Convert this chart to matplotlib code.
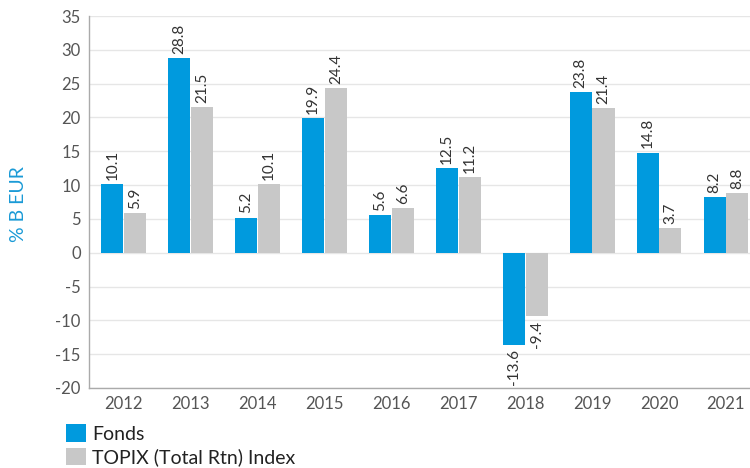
import matplotlib
matplotlib.use("Agg")
import matplotlib.pyplot as plt
import numpy as np

years = ["2012", "2013", "2014", "2015", "2016", "2017", "2018", "2019", "2020", "2021"]
fonds = [10.1, 28.8, 5.2, 19.9, 5.6, 12.5, -13.6, 23.8, 14.8, 8.2]
topix = [5.9, 21.5, 10.1, 24.4, 6.6, 11.2, -9.4, 21.4, 3.7, 8.8]
series_names = ["Fonds", "TOPIX (Total Rtn) Index"]
y_ticks = [-20, -15, -10, -5, 0, 5, 10, 15, 20, 25, 30, 35]

plt.rcParams['font.family'] = ['Lato', 'DejaVu Sans']

W, H = 750, 468
fig = plt.figure(figsize=(W / 100, H / 100), dpi=100)
ax = fig.add_axes([89 / W, (H - 388) / H, (W - 89) / W, (388 - 16) / H])

x = np.arange(len(years))
bw = 0.33
blue = "#009ade"
gray = "#c8c8c8"
b1 = ax.bar(x - bw / 2 - 0.005, fonds, bw, color=blue, label=series_names[0], zorder=3)
b2 = ax.bar(x + bw / 2 + 0.005, topix, bw, color=gray, label=series_names[1], zorder=3)

for bars in (b1, b2):
    ax.bar_label(bars, labels=[f"{v:.1f}" for v in bars.datavalues], rotation=90,
                 padding=3, fontsize=11, color="#333333")

ax.set_ylim(-20, 35)
ax.set_xlim(-0.52, 9.36)
ax.set_yticks(y_ticks)
ax.set_yticklabels([str(t) for t in y_ticks])
ax.set_xticks(x)
ax.set_xticklabels(years)
ax.tick_params(axis='both', length=0, labelsize=12, labelcolor="#555555")
ax.tick_params(axis='y', pad=6)
ax.tick_params(axis='x', pad=6)
ax.grid(axis='y', color="#e6e6e6", linewidth=1, zorder=0)
for s in ("top", "right"):
    ax.spines[s].set_visible(False)
for s in ("left", "bottom"):
    ax.spines[s].set_color("#aaaaaa")
    ax.spines[s].set_linewidth(1)

fig.text(18 / W, 1 - 204 / H, "% B EUR", rotation=90, color="#1a9ad6", fontsize=14,
         ha="center", va="center")

fig.legend(handles=[b1, b2], labels=series_names, loc="upper left",
           bbox_to_anchor=(66 / W, 1 - 424 / H), frameon=False, fontsize=14,
           handlelength=1.03, handleheight=1.03, handletextpad=0.3, labelspacing=0.26,
           borderpad=0, borderaxespad=0, labelcolor="#222222")

fig.savefig("out.png", dpi=100)
